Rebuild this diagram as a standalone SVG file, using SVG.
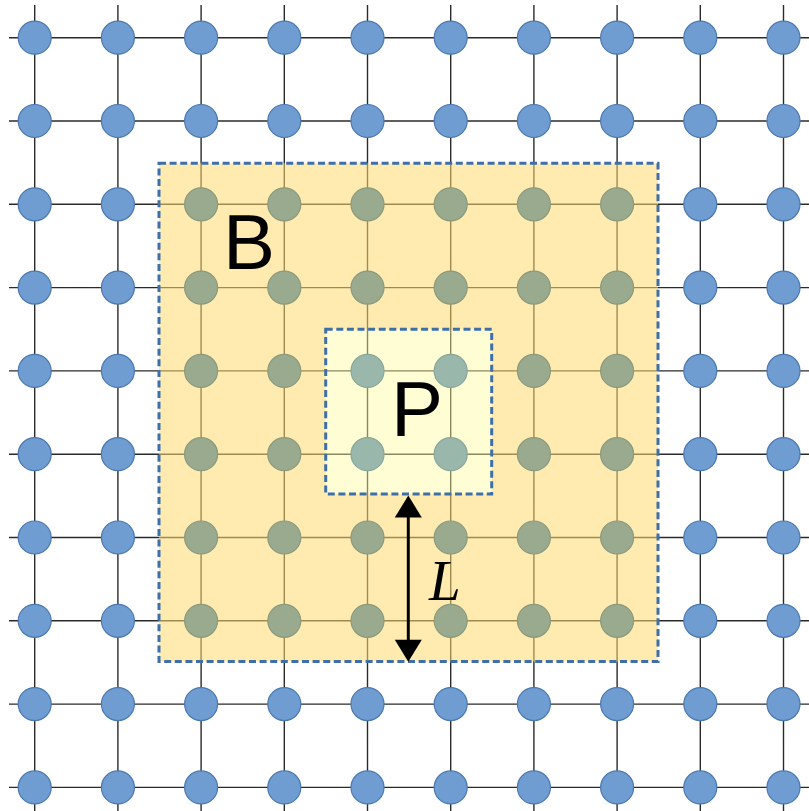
<svg xmlns="http://www.w3.org/2000/svg" width="809" height="811" viewBox="0 0 809 811">
<style>
.grid line{stroke:#2a2a2a;stroke-width:1.4}
.n circle{fill:#709dd1;stroke:#4a78b0;stroke-width:1.2}
.b circle{fill:#9aaa8f;stroke:#8a9a7c;stroke-width:1.2}
.p circle{fill:#99b8ab;stroke:#88a69a;stroke-width:1.2}
.zone{stroke:#3f6fa8;stroke-width:3;stroke-dasharray:7 3.6}
.lbl{font-family:"Liberation Sans",Arial,sans-serif;font-size:78px;fill:#000}
.arr{fill:#000}
</style>
<rect width="809" height="811" fill="#fff"/>
<g id="grid" class="grid">
<line x1="34.7" y1="5" x2="34.7" y2="811"/>
<line x1="117.9" y1="5" x2="117.9" y2="811"/>
<line x1="201.1" y1="5" x2="201.1" y2="811"/>
<line x1="284.3" y1="5" x2="284.3" y2="811"/>
<line x1="367.5" y1="5" x2="367.5" y2="811"/>
<line x1="450.7" y1="5" x2="450.7" y2="811"/>
<line x1="533.9" y1="5" x2="533.9" y2="811"/>
<line x1="617.1" y1="5" x2="617.1" y2="811"/>
<line x1="700.3" y1="5" x2="700.3" y2="811"/>
<line x1="783.5" y1="5" x2="783.5" y2="811"/>
<line x1="9" y1="37.7" x2="809" y2="37.7"/>
<line x1="9" y1="121" x2="809" y2="121"/>
<line x1="9" y1="204.3" x2="809" y2="204.3"/>
<line x1="9" y1="287.6" x2="809" y2="287.6"/>
<line x1="9" y1="370.9" x2="809" y2="370.9"/>
<line x1="9" y1="454.2" x2="809" y2="454.2"/>
<line x1="9" y1="537.5" x2="809" y2="537.5"/>
<line x1="9" y1="620.8" x2="809" y2="620.8"/>
<line x1="9" y1="704.1" x2="809" y2="704.1"/>
<line x1="9" y1="787.4" x2="809" y2="787.4"/>
</g>
<g id="regions">
<path id="regionB" d="M159,163.3 H658 V661.5 H159 Z M325.7,329.3 V494 H491.7 V329.3 Z" fill="#ffd86e" fill-opacity="0.55" fill-rule="evenodd"/>
<rect id="regionP" x="325.7" y="329.3" width="166" height="164.7" fill="#fffaa0" fill-opacity="0.45"/>
<rect x="159" y="163.3" width="499" height="498.2" fill="none" class="zone"/>
<rect x="325.7" y="329.3" width="166" height="164.7" fill="none" class="zone"/>
</g>
<g id="nodes">
<g id="n0_0" class="n"><circle cx="34.7" cy="37.7" r="16.5"/></g>
<g id="n1_0" class="n"><circle cx="117.9" cy="37.7" r="16.5"/></g>
<g id="n2_0" class="n"><circle cx="201.1" cy="37.7" r="16.5"/></g>
<g id="n3_0" class="n"><circle cx="284.3" cy="37.7" r="16.5"/></g>
<g id="n4_0" class="n"><circle cx="367.5" cy="37.7" r="16.5"/></g>
<g id="n5_0" class="n"><circle cx="450.7" cy="37.7" r="16.5"/></g>
<g id="n6_0" class="n"><circle cx="533.9" cy="37.7" r="16.5"/></g>
<g id="n7_0" class="n"><circle cx="617.1" cy="37.7" r="16.5"/></g>
<g id="n8_0" class="n"><circle cx="700.3" cy="37.7" r="16.5"/></g>
<g id="n9_0" class="n"><circle cx="783.5" cy="37.7" r="16.5"/></g>
<g id="n0_1" class="n"><circle cx="34.7" cy="121" r="16.5"/></g>
<g id="n1_1" class="n"><circle cx="117.9" cy="121" r="16.5"/></g>
<g id="n2_1" class="n"><circle cx="201.1" cy="121" r="16.5"/></g>
<g id="n3_1" class="n"><circle cx="284.3" cy="121" r="16.5"/></g>
<g id="n4_1" class="n"><circle cx="367.5" cy="121" r="16.5"/></g>
<g id="n5_1" class="n"><circle cx="450.7" cy="121" r="16.5"/></g>
<g id="n6_1" class="n"><circle cx="533.9" cy="121" r="16.5"/></g>
<g id="n7_1" class="n"><circle cx="617.1" cy="121" r="16.5"/></g>
<g id="n8_1" class="n"><circle cx="700.3" cy="121" r="16.5"/></g>
<g id="n9_1" class="n"><circle cx="783.5" cy="121" r="16.5"/></g>
<g id="n0_2" class="n"><circle cx="34.7" cy="204.3" r="16.5"/></g>
<g id="n1_2" class="n"><circle cx="117.9" cy="204.3" r="16.5"/></g>
<g id="n2_2" class="b"><circle cx="201.1" cy="204.3" r="16.5"/></g>
<g id="n3_2" class="b"><circle cx="284.3" cy="204.3" r="16.5"/></g>
<g id="n4_2" class="b"><circle cx="367.5" cy="204.3" r="16.5"/></g>
<g id="n5_2" class="b"><circle cx="450.7" cy="204.3" r="16.5"/></g>
<g id="n6_2" class="b"><circle cx="533.9" cy="204.3" r="16.5"/></g>
<g id="n7_2" class="b"><circle cx="617.1" cy="204.3" r="16.5"/></g>
<g id="n8_2" class="n"><circle cx="700.3" cy="204.3" r="16.5"/></g>
<g id="n9_2" class="n"><circle cx="783.5" cy="204.3" r="16.5"/></g>
<g id="n0_3" class="n"><circle cx="34.7" cy="287.6" r="16.5"/></g>
<g id="n1_3" class="n"><circle cx="117.9" cy="287.6" r="16.5"/></g>
<g id="n2_3" class="b"><circle cx="201.1" cy="287.6" r="16.5"/></g>
<g id="n3_3" class="b"><circle cx="284.3" cy="287.6" r="16.5"/></g>
<g id="n4_3" class="b"><circle cx="367.5" cy="287.6" r="16.5"/></g>
<g id="n5_3" class="b"><circle cx="450.7" cy="287.6" r="16.5"/></g>
<g id="n6_3" class="b"><circle cx="533.9" cy="287.6" r="16.5"/></g>
<g id="n7_3" class="b"><circle cx="617.1" cy="287.6" r="16.5"/></g>
<g id="n8_3" class="n"><circle cx="700.3" cy="287.6" r="16.5"/></g>
<g id="n9_3" class="n"><circle cx="783.5" cy="287.6" r="16.5"/></g>
<g id="n0_4" class="n"><circle cx="34.7" cy="370.9" r="16.5"/></g>
<g id="n1_4" class="n"><circle cx="117.9" cy="370.9" r="16.5"/></g>
<g id="n2_4" class="b"><circle cx="201.1" cy="370.9" r="16.5"/></g>
<g id="n3_4" class="b"><circle cx="284.3" cy="370.9" r="16.5"/></g>
<g id="n4_4" class="p"><circle cx="367.5" cy="370.9" r="16.5"/></g>
<g id="n5_4" class="p"><circle cx="450.7" cy="370.9" r="16.5"/></g>
<g id="n6_4" class="b"><circle cx="533.9" cy="370.9" r="16.5"/></g>
<g id="n7_4" class="b"><circle cx="617.1" cy="370.9" r="16.5"/></g>
<g id="n8_4" class="n"><circle cx="700.3" cy="370.9" r="16.5"/></g>
<g id="n9_4" class="n"><circle cx="783.5" cy="370.9" r="16.5"/></g>
<g id="n0_5" class="n"><circle cx="34.7" cy="454.2" r="16.5"/></g>
<g id="n1_5" class="n"><circle cx="117.9" cy="454.2" r="16.5"/></g>
<g id="n2_5" class="b"><circle cx="201.1" cy="454.2" r="16.5"/></g>
<g id="n3_5" class="b"><circle cx="284.3" cy="454.2" r="16.5"/></g>
<g id="n4_5" class="p"><circle cx="367.5" cy="454.2" r="16.5"/></g>
<g id="n5_5" class="p"><circle cx="450.7" cy="454.2" r="16.5"/></g>
<g id="n6_5" class="b"><circle cx="533.9" cy="454.2" r="16.5"/></g>
<g id="n7_5" class="b"><circle cx="617.1" cy="454.2" r="16.5"/></g>
<g id="n8_5" class="n"><circle cx="700.3" cy="454.2" r="16.5"/></g>
<g id="n9_5" class="n"><circle cx="783.5" cy="454.2" r="16.5"/></g>
<g id="n0_6" class="n"><circle cx="34.7" cy="537.5" r="16.5"/></g>
<g id="n1_6" class="n"><circle cx="117.9" cy="537.5" r="16.5"/></g>
<g id="n2_6" class="b"><circle cx="201.1" cy="537.5" r="16.5"/></g>
<g id="n3_6" class="b"><circle cx="284.3" cy="537.5" r="16.5"/></g>
<g id="n4_6" class="b"><circle cx="367.5" cy="537.5" r="16.5"/></g>
<g id="n5_6" class="b"><circle cx="450.7" cy="537.5" r="16.5"/></g>
<g id="n6_6" class="b"><circle cx="533.9" cy="537.5" r="16.5"/></g>
<g id="n7_6" class="b"><circle cx="617.1" cy="537.5" r="16.5"/></g>
<g id="n8_6" class="n"><circle cx="700.3" cy="537.5" r="16.5"/></g>
<g id="n9_6" class="n"><circle cx="783.5" cy="537.5" r="16.5"/></g>
<g id="n0_7" class="n"><circle cx="34.7" cy="620.8" r="16.5"/></g>
<g id="n1_7" class="n"><circle cx="117.9" cy="620.8" r="16.5"/></g>
<g id="n2_7" class="b"><circle cx="201.1" cy="620.8" r="16.5"/></g>
<g id="n3_7" class="b"><circle cx="284.3" cy="620.8" r="16.5"/></g>
<g id="n4_7" class="b"><circle cx="367.5" cy="620.8" r="16.5"/></g>
<g id="n5_7" class="b"><circle cx="450.7" cy="620.8" r="16.5"/></g>
<g id="n6_7" class="b"><circle cx="533.9" cy="620.8" r="16.5"/></g>
<g id="n7_7" class="b"><circle cx="617.1" cy="620.8" r="16.5"/></g>
<g id="n8_7" class="n"><circle cx="700.3" cy="620.8" r="16.5"/></g>
<g id="n9_7" class="n"><circle cx="783.5" cy="620.8" r="16.5"/></g>
<g id="n0_8" class="n"><circle cx="34.7" cy="704.1" r="16.5"/></g>
<g id="n1_8" class="n"><circle cx="117.9" cy="704.1" r="16.5"/></g>
<g id="n2_8" class="n"><circle cx="201.1" cy="704.1" r="16.5"/></g>
<g id="n3_8" class="n"><circle cx="284.3" cy="704.1" r="16.5"/></g>
<g id="n4_8" class="n"><circle cx="367.5" cy="704.1" r="16.5"/></g>
<g id="n5_8" class="n"><circle cx="450.7" cy="704.1" r="16.5"/></g>
<g id="n6_8" class="n"><circle cx="533.9" cy="704.1" r="16.5"/></g>
<g id="n7_8" class="n"><circle cx="617.1" cy="704.1" r="16.5"/></g>
<g id="n8_8" class="n"><circle cx="700.3" cy="704.1" r="16.5"/></g>
<g id="n9_8" class="n"><circle cx="783.5" cy="704.1" r="16.5"/></g>
<g id="n0_9" class="n"><circle cx="34.7" cy="787.4" r="16.5"/></g>
<g id="n1_9" class="n"><circle cx="117.9" cy="787.4" r="16.5"/></g>
<g id="n2_9" class="n"><circle cx="201.1" cy="787.4" r="16.5"/></g>
<g id="n3_9" class="n"><circle cx="284.3" cy="787.4" r="16.5"/></g>
<g id="n4_9" class="n"><circle cx="367.5" cy="787.4" r="16.5"/></g>
<g id="n5_9" class="n"><circle cx="450.7" cy="787.4" r="16.5"/></g>
<g id="n6_9" class="n"><circle cx="533.9" cy="787.4" r="16.5"/></g>
<g id="n7_9" class="n"><circle cx="617.1" cy="787.4" r="16.5"/></g>
<g id="n8_9" class="n"><circle cx="700.3" cy="787.4" r="16.5"/></g>
<g id="n9_9" class="n"><circle cx="783.5" cy="787.4" r="16.5"/></g>
</g>
<g id="labels">
<text class="lbl" x="223" y="269">B</text>
<text class="lbl" x="391" y="436">P</text>
</g>
<g id="connectors">
<line x1="408.3" y1="514" x2="408.3" y2="643" stroke="#000" stroke-width="3"/>
<polygon class="arr" points="408.3,495.5 394.8,517.5 421.8,517.5"/>
<polygon class="arr" points="408.3,661.7 394.8,639.7 421.8,639.7"/>
<text x="429" y="600" font-family="'Liberation Serif','Times New Roman',serif" font-style="italic" font-size="57" fill="#000">L</text>
</g>
</svg>
